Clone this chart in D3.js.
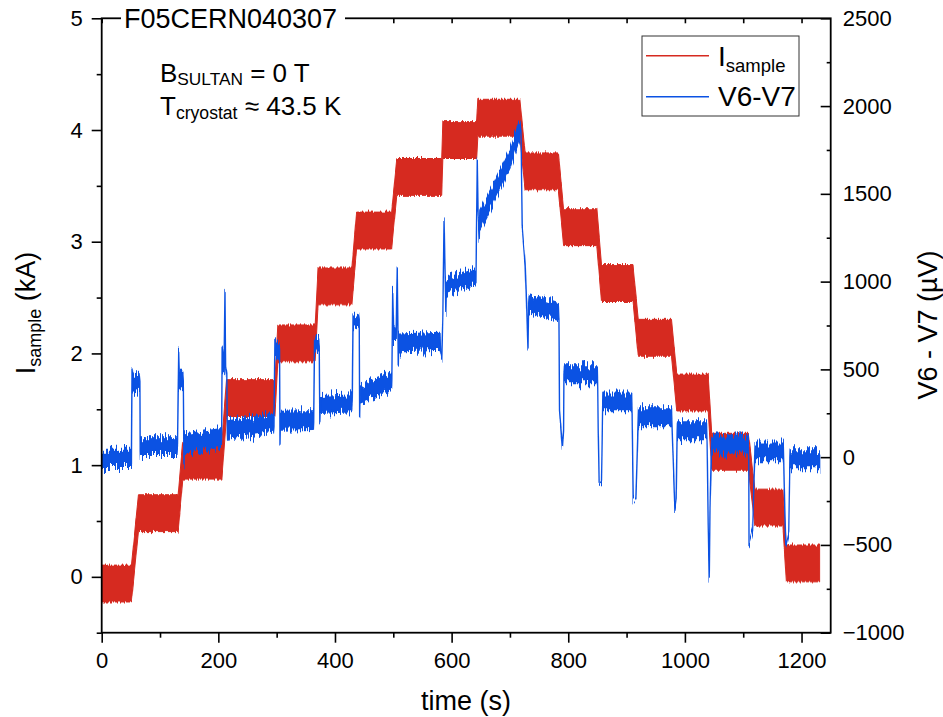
<!DOCTYPE html>
<html><head><meta charset="utf-8">
<script src="https://cdn.jsdelivr.net/npm/d3@7"></script>
<style>
body{margin:0;background:#fff}
svg{display:block}
text{font-family:"Liberation Sans",Arial,Helvetica,sans-serif;fill:#000}
</style>
</head><body>
<svg id="chart" width="943" height="717"></svg>
<script>
// ---------- data ----------
// I_sample current plateaus (kA): start time, end time, level
const stepStart = [0, 63, 139, 214, 302, 371, 437, 506, 585, 645, 726, 792, 857, 920, 986, 1046, 1120, 1174];
const stepEnd   = [51, 131, 206, 297, 366, 429, 497, 583, 643, 717, 783, 849, 911, 977, 1040, 1109, 1168, 1231];
const stepLevel = [-0.06, 0.57, 1.04, 1.60, 2.09, 2.60, 3.10, 3.58, 3.91, 4.11, 3.63, 3.13, 2.63, 2.14, 1.65, 1.12, 0.62, 0.12];
const currentNoise = 0.165; // half width of the current noise band (kA)

// V6-V7 trace: time (s), value (µV), noise half width (µV)
const voltT = [0,51, 52,53,64,65.5,66, 66.5,129, 130,132,133,139,140,141,142, 142.5,205,
  205.7,206.5,208,210,211.4,212.5,214.5,215.4, 216,294, 295.4,297,298,304,305,305.7,306.5, 307,362.8,
  363.5,365,366,372,373,374,375, 375.5,428.6, 429.6,431,432,440,441.6,442.3,443, 443.5,497,
  497.5,499,500.5,505,506.8,507.7,508.5,509.3, 510,580, 581,583,585,587,588.5,590,591, 591.5,640,
  641.7,644,645.5,647.4,648, 648.5,680,700,716, 717.5,719,721,726,731,732, 733,783,
  784,785,790,792,792.6, 793.5,849.7, 850.5,851.4,853,857,859, 859.5,908.6, 909.5,911.4,916,920, 920.5,977,
  978,983,985,986.7, 987.2,1037, 1038,1040,1041.7,1043,1045.8, 1046.3,1108.5, 1109.5,1110,1116,1120,
  1120.5,1168.5, 1169.5,1173,1178,1180, 1180.5,1231];
const voltV = [-10,-10, 520,430,420,420,60, 60,60, 60,620,450,430,430,-60,80, 80,110,
  110,620,520,520,955,500,450,150, 155,195, 195,676,620,600,600,80,210, 210,215,
  215,695,640,640,640,190,300, 300,310, 310,809,780,770,770,230,360, 360,430,
  430,961,700,700,1084,800,514,650, 650,660, 600,564,800,1369,1100,819,980, 980,1037,
  1000,1692,1400,1246,1350, 1350,1560,1700,1860, 1895,1850,1310,1100,610,880, 880,830,
  800,268,50,150,470, 470,470, 400,135,-160,-150,315, 315,315, 250,-255,-230,230, 230,230,
  180,-302,-250,150, 150,150, 100,-387,-695,-300,75, 75,75, 0,-492,-420,30,
  30,30, -50,-511,-440,-15, -15,-15];
const voltA = [48,48, 0,50,50,0,0, 50,50, 0,0,50,50,0,0,0, 52,52,
  0,0,55,55,0,0,0,0, 52,52, 0,0,45,45,0,0,0, 50,50,
  0,0,40,40,0,0,0, 50,50, 0,0,35,35,0,0,0, 50,50,
  0,0,35,35,0,0,0,0, 50,50, 0,0,0,0,0,0,0, 45,45,
  0,0,0,0,0, 52,52,52,52, 0,0,0,0,0,0, 50,50,
  0,0,0,0,0, 50,50, 0,0,0,0,0, 50,50, 0,0,0,0, 50,50,
  0,0,0,0, 50,50, 0,0,0,0,0, 50,50, 0,0,0,0,
  50,50, 0,0,0,0, 50,50];

const xTickValues = [0, 200, 400, 600, 800, 1000, 1200];
const leftTickValues = [0, 1, 2, 3, 4, 5];
const rightTickValues = [-1000, -500, 0, 500, 1000, 1500, 2000, 2500];

// ---------- layout ----------
const P = {l: 101.7, r: 830.7, t: 18.3, b: 632.7};
const RED = "#d62a20", BLUE = "#0b52e3";

const svg = d3.select("#chart");
const x  = d3.scaleLinear().domain([0, 1250]).range([P.l, P.r]);
const yL = d3.scaleLinear().domain([-0.5, 5]).range([P.b, P.t]);
const yR = d3.scaleLinear().domain([-1000, 2500]).range([P.b, P.t]);

const defs = svg.append("defs");
defs.append("clipPath").attr("id", "clip")
  .append("rect").attr("x", P.l).attr("y", P.t).attr("width", P.r - P.l).attr("height", P.b - P.t);

// visual texture for the noisy traces (style only: vertical pixel jitter)
function jitter(id, scale, seed) {
  const f = defs.append("filter").attr("id", id).attr("color-interpolation-filters", "sRGB")
    .attr("x", "-2%").attr("y", "-10%").attr("width", "104%").attr("height", "120%");
  f.append("feTurbulence").attr("type", "fractalNoise").attr("baseFrequency", "0.75 0.012")
    .attr("numOctaves", 2).attr("seed", seed).attr("result", "n");
  f.append("feColorMatrix").attr("in", "n").attr("type", "matrix")
    .attr("values", "0 0 0 0 0.5  0 1 0 0 0  0 0 0 0 0  0 0 0 0 1").attr("result", "m");
  f.append("feDisplacementMap").attr("in", "SourceGraphic").attr("in2", "m").attr("scale", scale)
    .attr("xChannelSelector", "R").attr("yChannelSelector", "G");
}
jitter("jitB", 20, 3);
jitter("jitR", 6, 7);

// current band
const cur = [];
stepStart.forEach((s, i) => { cur.push({t: s, v: stepLevel[i]}); cur.push({t: stepEnd[i], v: stepLevel[i]}); });
const plot = svg.append("g").attr("clip-path", "url(#clip)");
plot.append("g").attr("filter", "url(#jitR)").append("path").datum(cur)
  .attr("d", d3.area().x(d => x(d.t)).y0(d => yL(d.v - currentNoise)).y1(d => yL(d.v + currentNoise)))
  .attr("fill", RED).attr("stroke", RED).attr("stroke-width", 1).attr("stroke-linejoin", "round");

// voltage trace
const volt = voltT.map((t, i) => ({t, v: voltV[i], a: voltA[i]}));
plot.append("g").attr("filter", "url(#jitB)").append("path").datum(volt)
  .attr("d", d3.area().x(d => x(d.t)).y0(d => yR(d.v - d.a)).y1(d => yR(d.v + d.a)))
  .attr("fill", BLUE).attr("stroke", BLUE).attr("stroke-width", 1.4).attr("stroke-linejoin", "round");

// ---------- axes ----------
function styleAxis(g, fs) {
  g.select(".domain").remove();
  g.selectAll("line").attr("stroke", "#000").attr("stroke-width", 1.6);
  g.selectAll("text").attr("font-size", fs).attr("font-family", '"Liberation Sans",Arial,sans-serif').attr("fill", "#000");
}
const minorX = d3.range(100, 1250, 200);
svg.append("g").attr("transform", `translate(0,${P.b})`)
  .call(d3.axisBottom(x).tickValues(xTickValues).tickSize(10).tickPadding(10).tickFormat(d3.format("d")))
  .call(g => styleAxis(g, 22));
svg.append("g").attr("transform", `translate(0,${P.b})`)
  .call(d3.axisBottom(x).tickValues(minorX).tickSize(5).tickFormat(""))
  .call(g => styleAxis(g, 22));
svg.append("g").attr("transform", `translate(0,${P.t})`)
  .call(d3.axisTop(x).tickValues(d3.range(0, 1250, 100)).tickSizeInner(-5).tickSizeOuter(0).tickFormat(""))
  .call(g => styleAxis(g, 22));
svg.append("g").attr("transform", `translate(${P.l},0)`)
  .call(d3.axisLeft(yL).tickValues(leftTickValues).tickSize(10).tickPadding(9).tickFormat(d3.format("d")))
  .call(g => styleAxis(g, 22));
svg.append("g").attr("transform", `translate(${P.l},0)`)
  .call(d3.axisLeft(yL).tickValues(d3.range(-0.5, 5, 1)).tickSize(5).tickFormat(""))
  .call(g => styleAxis(g, 22));
svg.append("g").attr("transform", `translate(${P.r},0)`)
  .call(d3.axisRight(yR).tickValues(rightTickValues).tickSizeInner(-10).tickSizeOuter(0).tickPadding(12).tickFormat(d3.format("d")))
  .call(g => styleAxis(g, 22));
svg.append("g").attr("transform", `translate(${P.r},0)`)
  .call(d3.axisRight(yR).tickValues(d3.range(-750, 2500, 500)).tickSizeInner(-4).tickSizeOuter(0).tickFormat(""))
  .call(g => styleAxis(g, 22));

// frame
svg.append("rect").attr("x", P.l).attr("y", P.t).attr("width", P.r - P.l).attr("height", P.b - P.t)
  .attr("fill", "none").attr("stroke", "#000").attr("stroke-width", 1.8);

// title on the top axis
svg.append("rect").attr("x", 121).attr("y", 8).attr("width", 224).attr("height", 22).attr("fill", "#fff");
svg.append("text").attr("x", 124).attr("y", 28.3).attr("font-size", 27).text("F05CERN040307");

// annotations
const a1 = svg.append("text").attr("x", 160).attr("y", 81.7).attr("font-size", 26);
a1.append("tspan").text("B");
a1.append("tspan").attr("font-size", 17.3).attr("dy", 3).text("SULTAN");
a1.append("tspan").attr("dy", -3).text(" = 0 T");
const a2 = svg.append("text").attr("x", 160).attr("y", 115).attr("font-size", 26);
a2.append("tspan").text("T");
a2.append("tspan").attr("font-size", 17.6).attr("dy", 4).text("cryostat");
a2.append("tspan").attr("dy", -4).text(" \u2248 43.5 K");

// axis titles
svg.append("text").attr("x", 466).attr("y", 710).attr("text-anchor", "middle").attr("font-size", 27).text("time (s)");
const yl = svg.append("text").attr("transform", "translate(34.5,313) rotate(-90)").attr("text-anchor", "middle").attr("font-size", 27);
yl.append("tspan").text("I");
yl.append("tspan").attr("font-size", 18).attr("dy", 6).text("sample");
yl.append("tspan").attr("dy", -6).text(" (kA)");
svg.append("text").attr("transform", "translate(937,325) rotate(-90)").attr("text-anchor", "middle").attr("font-size", 27)
  .text("V6 - V7 (\u00b5V)");

// legend
const lg = svg.append("g");
lg.append("rect").attr("x", 642).attr("y", 36).attr("width", 157).attr("height", 80)
  .attr("fill", "#fff").attr("stroke", "#333").attr("stroke-width", 1);
lg.append("line").attr("x1", 646).attr("x2", 709).attr("y1", 55.7).attr("y2", 55.7).attr("stroke", RED).attr("stroke-width", 1.4);
lg.append("line").attr("x1", 646).attr("x2", 709).attr("y1", 96.7).attr("y2", 96.7).attr("stroke", BLUE).attr("stroke-width", 1.4);
const l1 = lg.append("text").attr("x", 718).attr("y", 65.5).attr("font-size", 28);
l1.append("tspan").text("I");
l1.append("tspan").attr("font-size", 18.5).attr("dy", 6).text("sample");
lg.append("text").attr("x", 718).attr("y", 106).attr("font-size", 28).text("V6-V7");
</script>
</body></html>
